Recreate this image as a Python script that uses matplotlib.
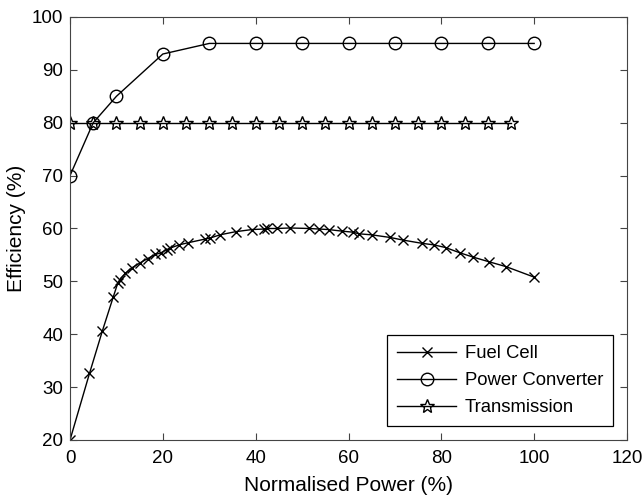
import numpy as np
import matplotlib.pyplot as plt

# Efficiency curves vs normalised power
fc_power = [0, 4.2, 7.0, 9.3, 10.3, 10.7, 11.9, 13.4, 15.1, 16.7, 18.4, 19.6,
            20.8, 21.6, 23.5, 25.4, 29.1, 30.2, 32.3, 35.7, 39.2, 41.8, 42.5,
            44.5, 47.4, 51.5, 53.6, 55.7, 58.6, 61.0, 62.2, 65.0, 69.0, 71.8,
            75.8, 78.4, 80.9, 84.0, 86.8, 90.3, 93.9, 100]
fc_eff = [20, 32.6, 40.7, 47.0, 49.7, 50.3, 51.5, 52.6, 53.5, 54.3, 55.1, 55.4,
          56.0, 56.3, 56.9, 57.3, 58.0, 58.2, 58.8, 59.4, 59.8, 59.9, 60.0,
          60.0, 60.1, 60.0, 59.9, 59.8, 59.5, 59.3, 59.0, 58.8, 58.3, 57.8,
          57.2, 56.9, 56.4, 55.4, 54.6, 53.7, 52.8, 50.8]

pc_power = [0, 5, 10, 20, 30, 40, 50, 60, 70, 80, 90, 100]
pc_eff = [70, 80, 85, 93, 95, 95, 95, 95, 95, 95, 95, 95]

tr_power = [0, 5, 10, 15, 20, 25, 30, 35, 40, 45, 50, 55, 60, 65, 70, 75, 80, 85, 90, 95]
tr_eff = [80] * len(tr_power)

plt.rcParams['font.family'] = ['Liberation Sans', 'DejaVu Sans']

fig = plt.figure(figsize=(6.44, 4.97), dpi=100)
ax = fig.add_axes([0.1087, 0.1147, 0.8649, 0.8511])

ax.plot(fc_power, fc_eff, 'k-', marker='x', ms=7, mew=1.0, lw=1.0,
        label='Fuel Cell')
ax.plot(pc_power, pc_eff, 'k-', marker='o', ms=9, mfc='none', mew=1.0, lw=1.0,
        label='Power Converter')
ax.plot(tr_power, tr_eff, 'k-', marker='*', ms=10, mfc='none', mew=1.0, lw=1.0,
        label='Transmission')

ax.set_xlim(0, 120)
ax.set_ylim(20, 100)
ax.set_xticks(np.arange(0, 121, 20))
ax.set_yticks(np.arange(20, 101, 10))
ax.tick_params(direction='in', top=True, right=True, length=5,
               labelsize=13.5, color='#444444')
ax.tick_params(axis='x', pad=7)
ax.tick_params(axis='y', pad=5)
for s in ax.spines.values():
    s.set_color('#444444')

ax.set_xlabel('Normalised Power (%)', fontsize=15, labelpad=7)
ax.set_ylabel('Efficiency (%)', fontsize=15, labelpad=4)

leg = ax.legend(loc='lower right', fontsize=13.3, fancybox=False,
                edgecolor='black', framealpha=1, handlelength=3.2,
                handletextpad=0.45, borderaxespad=0.75, borderpad=0.55,
                labelspacing=0.54)
leg.get_frame().set_linewidth(0.9)

plt.savefig('out.png', dpi=100)
